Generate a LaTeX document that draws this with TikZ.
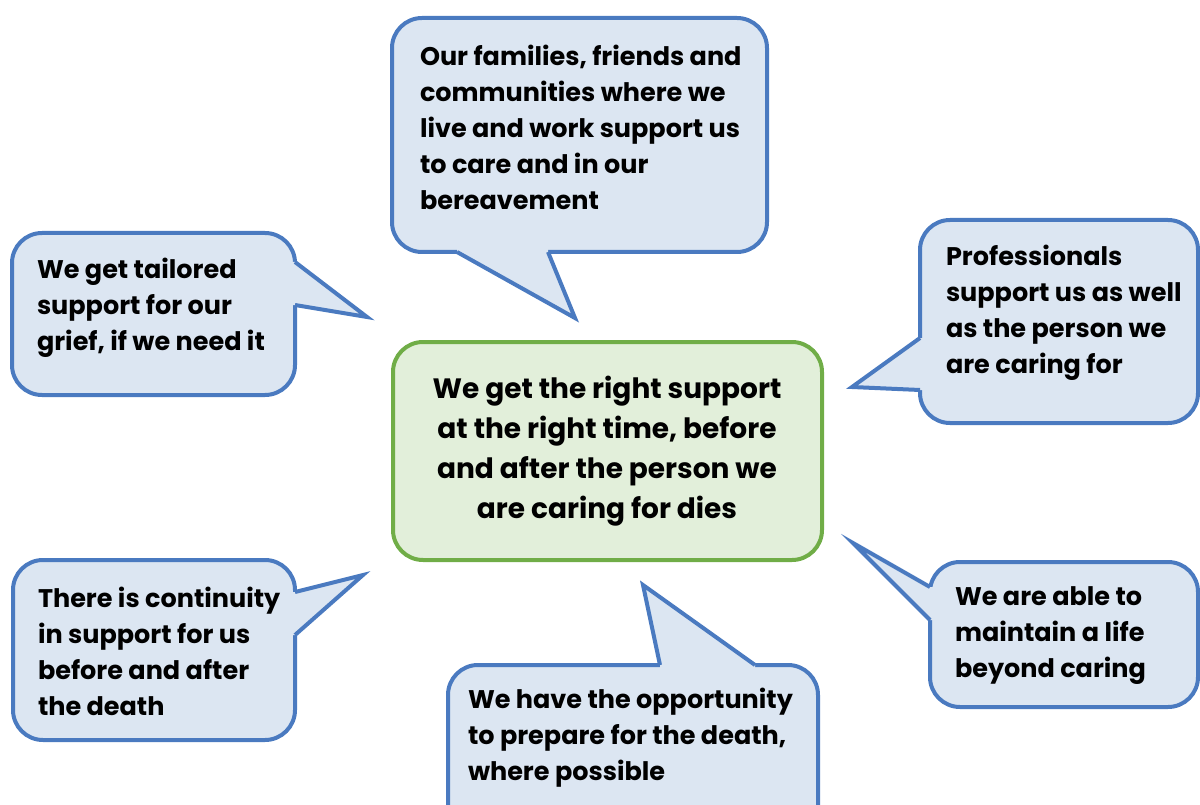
\documentclass[tikz,border=0pt]{standalone}
\usepackage{fontspec}
\setmainfont{Poppins}

\definecolor{bubblefill}{RGB}{220,230,242}
\definecolor{bubbleline}{RGB}{74,122,192}
\definecolor{hubfill}{RGB}{226,239,218}
\definecolor{hubline}{RGB}{112,173,71}

\begin{document}
\begin{tikzpicture}[x=1pt, y=-1pt, line width=4pt,
  bubble/.style={draw=bubbleline, fill=bubblefill, rounded corners=30pt,
    inner sep=0pt, outer sep=0pt, anchor=north west},
  hub/.style={bubble, draw=hubline, fill=hubfill},
  tailline/.style={draw=bubbleline, line join=miter},
  saying/.style={anchor=base west, align=left, inner sep=0pt,
    font=\fontsize{25.5}{36}\selectfont\bfseries},
  hubtext/.style={anchor=base, align=center, inner sep=0pt,
    font=\fontsize{28}{40}\selectfont\bfseries},
]
\useasboundingbox (0,0) rectangle (1200,805);
\clip (0,0) rectangle (1200,805);

% tips of the speech bubble tails
\coordinate (famtip) at (575,318);
\coordinate (grieftip) at (367,317);
\coordinate (proftip) at (852,387);
\coordinate (conttip) at (363,575);
\coordinate (abletip) at (853,543);
\coordinate (preptip) at (643,585);

% the bubbles
\node[bubble, minimum width=375, minimum height=234] (fambox) at (392,18) {};
\node[bubble, minimum width=283, minimum height=162] (griefbox) at (12,233) {};
\node[bubble, minimum width=278, minimum height=203] (profbox) at (920,220) {};
\node[hub, minimum width=429, minimum height=218] (hubbox) at (393,342) {};
\node[bubble, minimum width=282, minimum height=180] (contbox) at (13,560) {};
\node[bubble, minimum width=268, minimum height=145] (ablebox) at (930,562) {};
\node[bubble, minimum width=370, minimum height=180] (prepbox) at (448,665) {};

% tails: fill over the border, then stroke the two sides
\fill[bubblefill] (457,248) -- (457,252) -- (famtip) -- (548,252) -- (548,248) -- cycle;
\draw[tailline] (457,252) -- (famtip) -- (548,252);

\fill[bubblefill] (291,262) -- (295,262) -- (grieftip) -- (295,305) -- (291,305) -- cycle;
\draw[tailline] (295,262) -- (grieftip) -- (295,305);

\fill[bubblefill] (924,338) -- (920,338) -- (proftip) -- (920,390) -- (924,390) -- cycle;
\draw[tailline] (920,338) -- (proftip) -- (920,390);

\fill[bubblefill] (291,592) -- (295,592) -- (conttip) -- (295,635) -- (291,635) -- cycle;
\draw[tailline] (295,592) -- (conttip) -- (295,635);

\fill[bubblefill] (934,587) -- (930,587) -- (abletip) -- (930,620) -- (934,620) -- cycle;
\draw[tailline] (930,587) -- (abletip) -- (930,620);

\fill[bubblefill] (660,669) -- (660,665) -- (preptip) -- (755,665) -- (755,669) -- cycle;
\draw[tailline] (660,665) -- (preptip) -- (755,665);

% texts, placed by the baseline of their last line
\node[saying] (family) at (418,210) {Our families, friends and\\communities where we\\live and work support us\\to care and in our\\bereavement};
\node[saying] (grief) at (35,350) {We get tailored\\support for our\\grief, if we need it};
\node[saying] (prof) at (944,373) {Professionals\\support us as well\\as the person we\\are caring for};
\node[hubtext] (hub) at (607,518) {We get the right support\\at the right time, before\\and after the person we\\are caring for dies};
\node[saying] (cont) at (36,715) {There is continuity\\in support for us\\before and after\\the death};
\node[saying] (able) at (953,677) {We are able to\\maintain a life\\beyond caring};
\node[saying] (prep) at (466,780) {We have the opportunity\\to prepare for the death,\\where possible};
\end{tikzpicture}
\end{document}
